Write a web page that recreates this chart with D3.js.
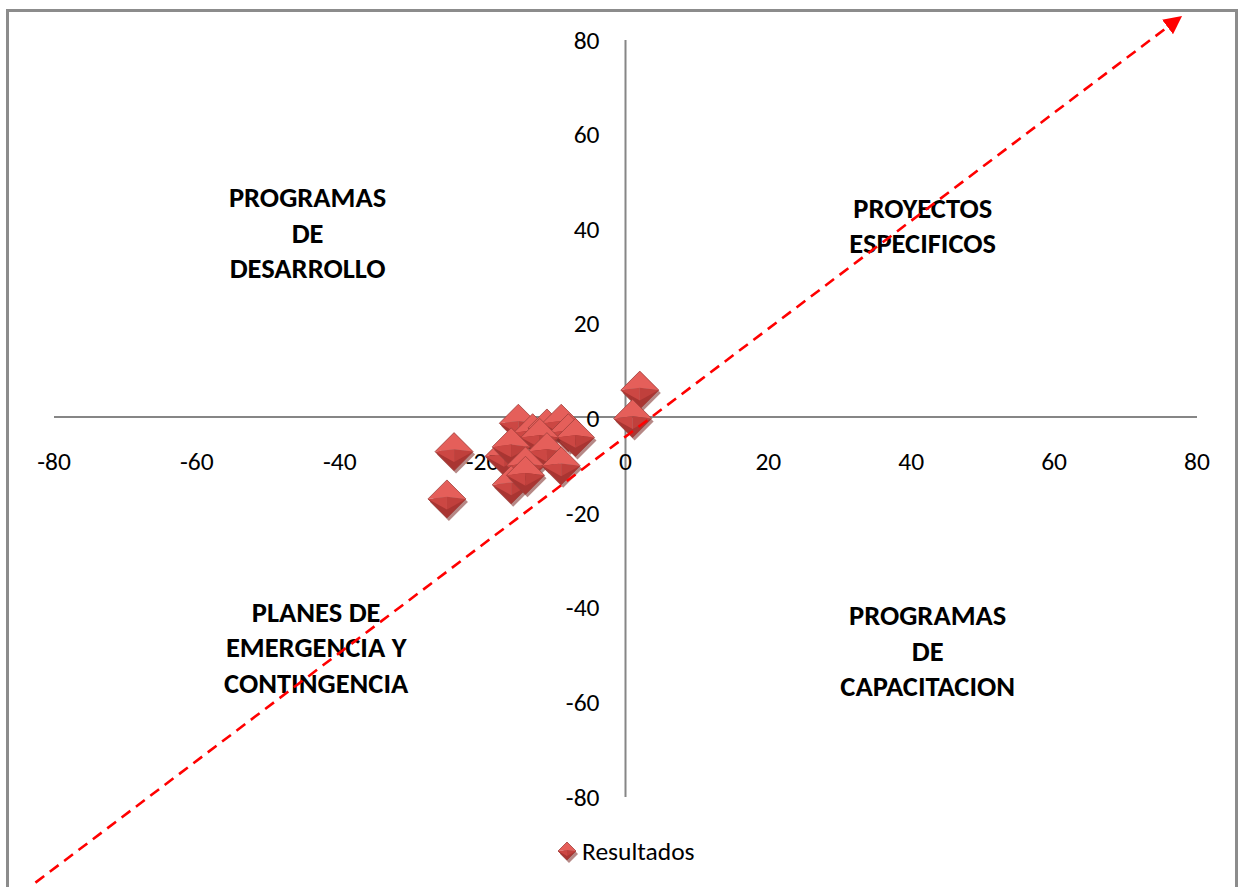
<!DOCTYPE html>
<html>
<head>
<meta charset="utf-8">
<script src="https://cdn.jsdelivr.net/npm/d3@7/dist/d3.min.js"></script>
<style>
  html, body { margin: 0; padding: 0; background: #fff; }
  svg { display: block; }
  text { font-family: Carlito, Calibri, Lato, "Open Sans", sans-serif; fill: #000; }
</style>
</head>
<body>
<svg id="chart" width="1240" height="887"></svg>
<script>
// Survey results: x and y scores for each evaluated item
const xValues = [-24, -25, -17, -15, -13, -11, -9, -8, -7, -12, -16, -11, -14, -9, -16, -14, 2, 1];
const yValues = [-7, -17, -8, -1, -3, -2, -1, -3, -4, -4, -6, -7, -10, -10, -14, -12, 6, 0];
const seriesName = "Resultados";

// Axis ticks
const xTicks = [-80, -60, -40, -20, 0, 20, 40, 60, 80];
const yTicks = [-80, -60, -40, -20, 0, 20, 40, 60, 80];

// Quadrant names
const quadrantLabels = [
  ["PROGRAMAS", "DE", "DESARROLLO"],
  ["PROYECTOS", "ESPECIFICOS"],
  ["PLANES DE", "EMERGENCIA Y", "CONTINGENCIA"],
  ["PROGRAMAS", "DE", "CAPACITACION"]
];

// Trend arrow end points (data units)
const trendX = [-82.6, 77.5];
const trendY = [-98.1, 84.6];

const svg = d3.select("#chart");
const x = d3.scaleLinear().domain([-80, 80]).range([54, 1197]);
const y = d3.scaleLinear().domain([-80, 80]).range([797, 40]);

// Chart frame
svg.append("rect")
  .attr("x", 7.5).attr("y", 10.5).attr("width", 1229).attr("height", 890)
  .attr("fill", "none").attr("stroke", "#8c8c8c").attr("stroke-width", 3);

// Axis lines crossing at the origin
svg.append("line")
  .attr("x1", x(-80)).attr("x2", x(80)).attr("y1", y(0) - 1.5).attr("y2", y(0) - 1.5)
  .attr("stroke", "#868686").attr("stroke-width", 2);
svg.append("line")
  .attr("x1", x(0)).attr("x2", x(0)).attr("y1", y(80)).attr("y2", y(-80))
  .attr("stroke", "#868686").attr("stroke-width", 2);

// Tick labels
svg.append("g").selectAll("text").data(xTicks).join("text")
  .attr("x", d => x(d)).attr("y", y(0) + 43)
  .attr("text-anchor", "middle").attr("dominant-baseline", "central")
  .attr("font-size", 25.5).text(d => d);
svg.append("g").selectAll("text").data(yTicks).join("text")
  .attr("x", x(0) - 26).attr("y", d => y(d))
  .attr("text-anchor", "end").attr("dominant-baseline", "central")
  .attr("font-size", 25.5).text(d => d);

// Quadrant labels
const labelPos = [[-44.5, 39.2], [41.6, 40.7], [-43.3, -48.5], [42.3, -49.2]];
quadrantLabels.forEach((lines, i) => {
  const [lx, ly] = labelPos[i];
  const t = svg.append("text")
    .attr("x", x(lx)).attr("y", y(ly))
    .attr("text-anchor", "middle").attr("font-weight", "bold").attr("font-size", 28.5);
  const n = lines.length;
  lines.forEach((s, j) => {
    t.append("tspan").attr("x", x(lx))
      .attr("y", y(ly) + (j - (n - 1) / 2) * 35.5)
      .attr("dominant-baseline", "central").text(s);
  });
});

// Bevelled diamond marker
function diamond(g, cx, cy, r) {
  const m = g.append("g").attr("transform", `translate(${cx},${cy})`);
  m.append("path")
    .attr("d", `M0,${-r}L${r},0L0,${r}L${-r},0Z`)
    .attr("transform", "translate(2,3)")
    .attr("fill", "#7a2623").attr("opacity", 0.55);
  const i = r * 0.12;
  const facets = [
    [`M${-r},0L0,${-r}L${r},0L0,${-i}Z`, "#e55f5a"],
    [`M${-r},0L0,${-i}L0,${r}Z`, "#cc4743"],
    [`M${r},0L0,${-i}L0,${r}Z`, "#c0403c"],
    [`M${-r},0L0,${r}L${r},0L0,${r * 0.55}Z`, "#a93532"]
  ];
  facets.forEach(([d, c]) => m.append("path").attr("d", d).attr("fill", c));
  m.append("path")
    .attr("d", `M0,${-r}L${r},0L0,${r}L${-r},0Z`)
    .attr("fill", "none").attr("stroke", "#a0403c").attr("stroke-width", 0.8);
}

const points = xValues.map((v, i) => ({ x: v, y: yValues[i] }));
const pg = svg.append("g");
points.forEach(p => diamond(pg, x(p.x), y(p.y), 19));

// Dashed trend arrow
svg.append("defs").append("marker")
  .attr("id", "arrow").attr("viewBox", "0 0 10 10")
  .attr("refX", 8).attr("refY", 5)
  .attr("markerWidth", 7).attr("markerHeight", 7)
  .attr("orient", "auto")
  .append("path").attr("d", "M0,0L10,5L0,10Z").attr("fill", "#ff0000");
svg.append("line")
  .attr("x1", x(trendX[0])).attr("y1", y(trendY[0]))
  .attr("x2", x(trendX[1])).attr("y2", y(trendY[1]))
  .attr("stroke", "#ff0000").attr("stroke-width", 2.6)
  .attr("stroke-dasharray", "11,7")
  .attr("marker-end", "url(#arrow)");

// Legend
const lg = svg.append("g");
diamond(lg, 567, 851, 9);
lg.append("text").attr("x", 582).attr("y", 851)
  .attr("dominant-baseline", "central").attr("font-size", 25.5).text(seriesName);
</script>
</body>
</html>
